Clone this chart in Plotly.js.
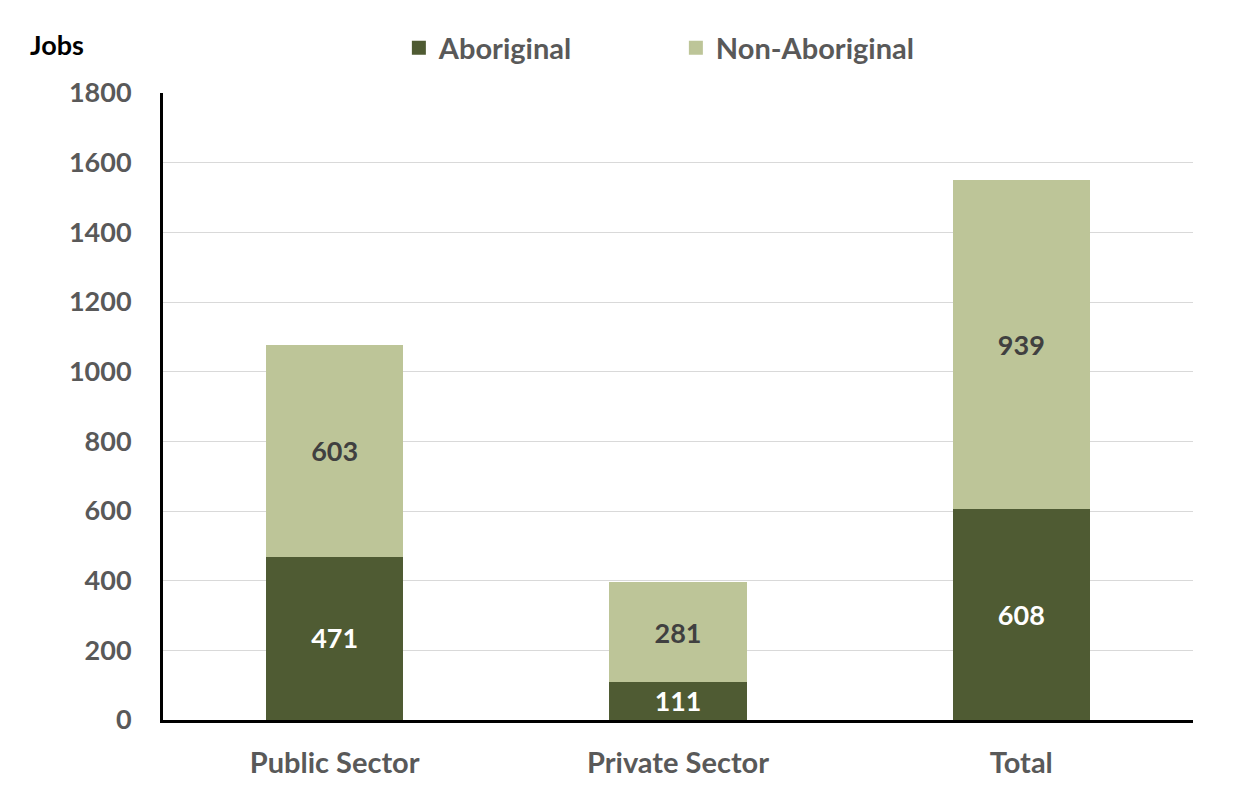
<!DOCTYPE html>
<html>
<head>
<meta charset="utf-8">
<script src="https://cdn.plot.ly/plotly-3.0.1.min.js"></script>
<style>html,body{margin:0;padding:0;background:#fff;}#chart{width:1237px;height:791px;}</style>
</head>
<body>
<div id="chart"></div>
<script>
const categories = ["Public Sector", "Private Sector", "Total"];
const aboriginal = [471, 111, 608];
const nonAboriginal = [603, 281, 939];
const yTicks = [0, 200, 400, 600, 800, 1000, 1200, 1400, 1600, 1800];

const FONT = "Lato, 'Open Sans', sans-serif";

const traces = [
  {
    type: "bar", name: "Aboriginal", x: categories, y: aboriginal,
    marker: {color: "#4F5B33", line: {color: "#4F5B33", width: 2}},
    text: aboriginal.map(String), textposition: "inside", insidetextanchor: "middle",
    textfont: {family: FONT, size: 27, color: "#FFFFFF", weight: "bold"},
    hoverinfo: "x+y+name"
  },
  {
    type: "bar", name: "Non-Aboriginal", x: categories, y: nonAboriginal,
    marker: {color: "#BDC598", line: {color: "#BDC598", width: 2}},
    text: nonAboriginal.map(String), textposition: "inside", insidetextanchor: "middle",
    textfont: {family: FONT, size: 27, color: "#404040", weight: "bold"},
    hoverinfo: "x+y+name"
  }
];

const layout = {
  width: 1237, height: 791,
  margin: {l: 163, r: 44, t: 93, b: 71, pad: 0},
  paper_bgcolor: "#FFFFFF", plot_bgcolor: "#FFFFFF",
  barmode: "stack", bargap: 0.606,
  font: {family: FONT, color: "#595959", size: 26, weight: "bold"},
  showlegend: true,
  legend: {
    orientation: "h", x: 0.229, xanchor: "left", y: 1.072, yanchor: "middle",
    font: {family: FONT, size: 29, color: "#595959", weight: "bold"},
    traceorder: "normal", entrywidth: 232, entrywidthmode: "pixels",
    bgcolor: "rgba(0,0,0,0)"
  },
  xaxis: {
    type: "category", showgrid: false, zeroline: false,
    showline: true, linecolor: "#000000", linewidth: 3,
    ticks: "outside", ticklen: 15, tickcolor: "rgba(0,0,0,0)",
    tickfont: {family: FONT, size: 29, color: "#595959", weight: "bold"},
    fixedrange: true
  },
  yaxis: {
    range: [0, 1800], tickvals: yTicks, ticktext: yTicks.map(String),
    showgrid: true, gridcolor: "#D9D9D9", gridwidth: 1,
    zeroline: false, showline: true, linecolor: "#000000", linewidth: 3,
    ticks: "outside", ticklen: 23, tickcolor: "rgba(0,0,0,0)",
    tickfont: {family: FONT, size: 27, color: "#595959", weight: "bold"},
    fixedrange: true
  },
  annotations: [
    {text: "Jobs", xref: "paper", yref: "paper", x: -0.131, y: 1.078, xanchor: "left", yanchor: "middle",
     showarrow: false, font: {family: FONT, size: 27, color: "#000000", weight: "bold"}}
  ]
};

Plotly.newPlot("chart", traces, layout, {displayModeBar: false, staticPlot: true});
</script>
</body>
</html>
